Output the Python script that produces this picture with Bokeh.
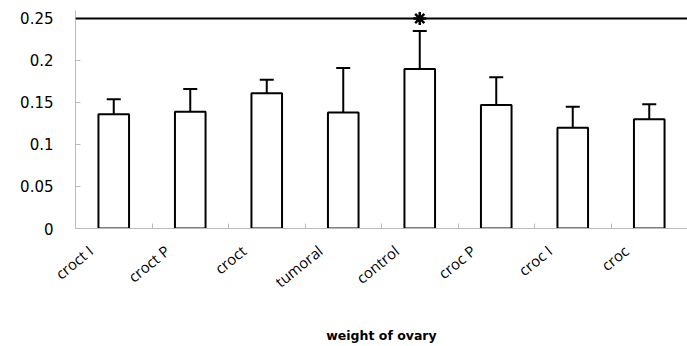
import math
from bokeh.plotting import figure
from bokeh.models import (ColumnDataSource, Whisker, Span, FixedTicker, Range1d)
from bokeh.embed import file_html
from bokeh.resources import INLINE

categories = ["croct I", "croct P", "croct", "tumoral", "control", "croc P", "croc I", "croc"]
means = [0.136, 0.139, 0.161, 0.138, 0.190, 0.147, 0.120, 0.130]
errors = [0.018, 0.027, 0.016, 0.053, 0.045, 0.033, 0.025, 0.018]
y_ticks = [0, 0.05, 0.1, 0.15, 0.2, 0.25]
y_tick_labels = ["0", "0.05", "0.1", "0.15", "0.2", "0.25"]
sig_line = 0.25
sig_category = "control"
x_title = "weight of ovary"

xs = [i + 0.5 for i in range(len(categories))]
label_pos = [x - 0.3 for x in xs]
src = ColumnDataSource(dict(
    x=xs, top=means,
    upper=[m + e for m, e in zip(means, errors)],
    lower=[m - e for m, e in zip(means, errors)],
))

p = figure(width=687, height=346, output_backend="svg", toolbar_location=None,
           x_range=Range1d(0, len(categories)), y_range=Range1d(0, 0.2595),
           min_border_left=75, min_border_right=0, min_border_top=10, min_border_bottom=0)
p.background_fill_color = "white"
p.border_fill_color = "white"
p.outline_line_color = None
p.xgrid.visible = False
p.ygrid.visible = False

p.vbar(x="x", top="top", width=0.4, bottom=0, source=src,
       fill_color="white", line_color="black", line_width=2)
w = Whisker(base="x", upper="upper", lower="lower", source=src,
            line_color="black", line_width=2)
for h in (w.upper_head, w.lower_head):
    h.size = 14
    h.line_width = 2
    h.line_color = "black"
p.add_layout(w)

p.add_layout(Span(location=sig_line, dimension="width", line_color="black", line_width=2))
p.scatter(x=[xs[categories.index(sig_category)]], y=[sig_line], marker="asterisk",
          size=13, line_color="black", line_width=2.5)

# y axis
p.yaxis.ticker = FixedTicker(ticks=y_ticks)
p.yaxis.major_label_overrides = {t: l for t, l in zip(y_ticks, y_tick_labels)}
p.yaxis.axis_line_color = "#bbbbbb"
p.yaxis.major_tick_line_color = "#bbbbbb"
p.yaxis.major_tick_in = 5
p.yaxis.major_tick_out = 0
p.yaxis.minor_tick_line_color = None
p.yaxis.major_label_standoff = 22
p.yaxis.major_label_text_font = "DejaVu Sans"
p.yaxis.major_label_text_font_size = "15px"
p.yaxis.major_label_text_color = "black"

# x axis
p.xaxis.ticker = FixedTicker(ticks=label_pos, minor_ticks=list(range(len(categories) + 1)))
p.xaxis.major_label_overrides = {x: c for x, c in zip(label_pos, categories)}
p.xaxis.major_label_orientation = 0.68
p.xaxis.axis_line_color = "#bbbbbb"
p.xaxis.major_tick_line_color = None
p.xaxis.minor_tick_line_color = "#bbbbbb"
p.xaxis.minor_tick_in = 5
p.xaxis.minor_tick_out = 0
p.xaxis.major_label_standoff = 14
p.xaxis.major_label_text_font = "Open Sans"
p.xaxis.major_label_text_font_size = "15px"
p.xaxis.major_label_text_color = "black"
p.xaxis.axis_label = x_title
p.xaxis.axis_label_text_font = "DejaVu Sans"
p.xaxis.axis_label_text_font_style = "bold"
p.xaxis.axis_label_text_font_size = "12.5px"
p.xaxis.axis_label_text_color = "black"
p.xaxis.axis_label_standoff = 26

open("out.html", "w").write(file_html(p, INLINE))
